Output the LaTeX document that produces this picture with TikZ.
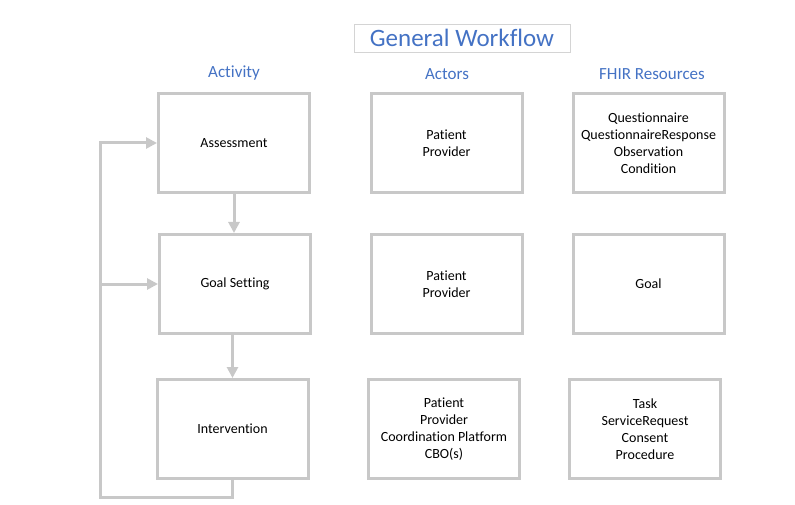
\documentclass[tikz,border=0pt]{standalone}
\usepackage{fontspec}
\setmainfont[Ligatures=NoCommon]{Carlito}
\usetikzlibrary{arrows.meta}
\definecolor{boxgrey}{RGB}{200,200,200}
\definecolor{frameGrey}{RGB}{212,212,212}
\definecolor{headBlue}{RGB}{68,114,196}
\begin{document}
\begin{tikzpicture}[x=1pt, y=-1pt, every node/.style = {align=center, font=\fontsize{14}{17}\selectfont}]
	\tikzset{ stage/.style = {draw=boxgrey, line width=3pt, minimum width=151pt, minimum height=99pt, inner sep=0pt} }
	\tikzset{ heading/.style = {text=headBlue, font=\fontsize{17}{20}\selectfont} }
	\tikzset{ flow/.style = {draw=boxgrey, line width=3pt, -{Triangle[length=11pt, width=11pt]}} }
	\useasboundingbox (0,0) rectangle (795,505);
	% title and column headings
	\node [draw=frameGrey, line width=0.8pt, text=headBlue, font=\fontsize{25}{28}\selectfont, minimum width=216pt, minimum height=28pt, inner sep=0pt] (title) at (462,38) {General Workflow};
	\node [heading] (hActivity) at (234,73) {Activity};
	\node [heading] (hActors) at (447,74) {Actors};
	\node [heading] (hFhir) at (652,74) {FHIR Resources};
	% activity column
	\node [stage] (assess) at (234,143) {Assessment};
	\node [stage] (goal) at (235,284) {Goal Setting};
	\node [stage] (interv) at (232.5,429) {Intervention};
	% actors column
	\node [stage] (actAssess) at (446.5,143) {Patient\\Provider};
	\node [stage] (actGoal) at (446.5,284) {Patient\\Provider};
	\node [stage] (actInterv) at (444,429) {Patient\\Provider\\Coordination Platform\\CBO(s)};
	% fhir column
	\node [stage] (resAssess) at (648.5,143) {Questionnaire\\QuestionnaireResponse\\Observation\\Condition};
	\node [stage] (resGoal) at (648.5,284) {Goal};
	\node [stage] (resInterv) at (645,429) {Task\\ServiceRequest\\Consent\\Procedure};
	% workflow arrows
	\draw [flow] (assess.south) -- (assess.south |- goal.north);
	\draw [flow] (goal.south -| interv.north) -- (interv.north);
	\coordinate (loopEnd) at (100,497);
	\draw [flow] (interv.south) |- (loopEnd) |- (assess.west);
	\draw [flow] (loopEnd |- goal.west) -- (goal.west);
\end{tikzpicture}
\end{document}
